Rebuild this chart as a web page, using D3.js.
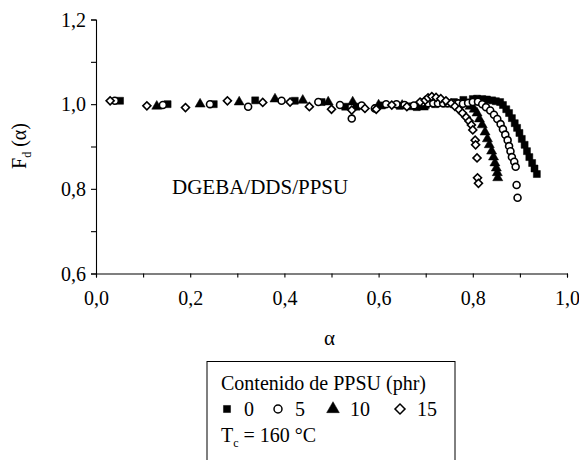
<!DOCTYPE html>
<html>
<head>
<meta charset="utf-8">
<script src="https://cdn.jsdelivr.net/npm/d3@7"></script>
</head>
<body style="margin:0">
<div class="plot"></div>
<script>
var W = 579, H = 460,
    m = {t:19.5, r:12, b:186.5, l:96},
    w = W - m.l - m.r,
    h = H - m.t - m.b;

// alpha / Fd values, one pair of arrays per PPSU content
var a0  = [0.051,0.152,0.250,0.338,0.422,0.479,0.529,0.553,0.607,0.645,0.667,0.681,0.700,0.720,0.740,0.760,0.780,0.800,
           0.809,0.820,0.830,0.841,0.849,0.858,0.864,0.871,0.877,0.883,0.889,0.894,0.899,0.904,0.910,0.915,0.920,0.926,0.931,0.936];
var f0  = [1.008,1.000,1.000,1.009,1.008,1.005,0.994,0.994,0.997,0.996,0.995,0.993,0.998,1.000,1.002,1.005,1.010,1.012,
           1.013,1.012,1.011,1.009,1.007,1.005,0.998,0.988,0.979,0.967,0.955,0.944,0.932,0.918,0.904,0.889,0.875,0.861,0.848,0.835];

var a5  = [0.040,0.142,0.242,0.323,0.394,0.472,0.518,0.543,0.564,0.592,0.616,0.638,0.655,0.675,0.694,
           0.705,0.716,0.726,0.737,0.747,0.758,0.769,0.779,0.790,0.800,
           0.811,0.820,0.828,0.837,0.845,0.852,0.859,0.864,0.869,0.874,0.877,0.880,0.883,0.888,0.891,0.893,0.895];
var f5  = [1.008,0.998,1.000,0.994,1.008,1.005,0.998,0.966,0.997,0.990,1.000,1.000,0.998,0.997,1.004,
           1.002,1.002,1.002,1.002,1.002,1.002,1.002,1.001,1.003,1.005,
           1.006,1.000,0.993,0.985,0.975,0.965,0.953,0.941,0.928,0.915,0.901,0.889,0.875,0.864,0.852,0.809,0.779];

var a10 = [0.129,0.221,0.304,0.380,0.439,0.493,0.545,0.600,0.650,0.695,0.720,0.745,0.770,
           0.794,0.803,0.809,0.814,0.820,0.826,0.831,0.835,0.840,0.844,0.847,0.850,0.852,0.853];
var f10 = [0.995,1.000,1.005,1.012,1.009,1.005,1.005,0.998,0.997,0.993,1.002,1.000,0.998,
           0.995,0.988,0.979,0.965,0.951,0.934,0.918,0.904,0.889,0.875,0.861,0.849,0.838,0.826];

var a15 = [0.030,0.108,0.190,0.279,0.354,0.412,0.453,0.500,0.543,0.571,0.595,0.628,0.660,0.688,
           0.699,0.705,0.713,0.722,0.732,0.743,0.754,0.762,0.771,0.778,0.786,0.792,0.797,0.800,
           0.805,0.806,0.809,0.810,0.812];
var f15 = [1.008,0.996,0.992,1.008,1.004,1.005,0.994,0.988,0.986,0.990,0.988,0.998,0.994,1.005,
           1.009,1.015,1.018,1.016,1.013,1.008,1.002,0.995,0.987,0.979,0.969,0.960,0.951,0.939,
           0.915,0.904,0.873,0.826,0.813];

var xTicks = [0,0.2,0.4,0.6,0.8,1.0];
var yTicks = [0.6,0.8,1.0,1.2];
var legendItems = ['0','5','10','15'];

var series = [
  {a:a0,  f:f0,  type:d3.symbolSquare,   size:49, rot:0,  fill:'#000'},
  {a:a10, f:f10, type:d3.symbolTriangle, size:44, rot:0,  fill:'#000'},
  {a:a5,  f:f5,  type:d3.symbolCircle,   size:38, rot:0,  fill:'#fff'},
  {a:a15, f:f15, type:d3.symbolSquare,   size:32, rot:45, fill:'#fff'}
];

var x = d3.scaleLinear().domain([0,1]).range([0,w]);
var y = d3.scaleLinear().domain([0.6,1.2]).range([h,0]);
var fmt = function(d){ return d3.format('.1f')(d).replace('.',','); };
var serif = "'Liberation Serif'";

var svg = d3.select('.plot').append('svg')
    .attr('width',W).attr('height',H)
    .attr('font-family',serif);
var g = svg.append('g').attr('transform','translate('+m.l+','+m.t+')');

// axes
var xAx = g.append('g').attr('transform','translate(0,'+h+')')
    .call(d3.axisBottom(x).tickValues(d3.range(0,1.01,0.1)).tickSize(4)
      .tickFormat(function(d){ return xTicks.some(function(t){return Math.abs(t-d)<1e-6}) ? fmt(d) : ''; }));
var yAx = g.append('g')
    .call(d3.axisLeft(y).tickValues(d3.range(0.6,1.21,0.1)).tickSize(5)
      .tickFormat(function(d){ return yTicks.some(function(t){return Math.abs(t-d)<1e-6}) ? fmt(d) : ''; }));
[xAx,yAx].forEach(function(ax){
  ax.attr('font-family',serif).attr('font-size',20);
  ax.select('.domain').attr('stroke','#000').attr('stroke-width',1.1);
  ax.selectAll('.tick line').attr('stroke','#000').attr('stroke-width',1.1);
  ax.selectAll('.tick text').attr('fill','#000');
});
xAx.selectAll('.tick text').attr('dy','1.2em');
yAx.selectAll('.tick text').attr('x',-10).attr('dy','0.34em');

// points
series.forEach(function(s){
  g.append('g').selectAll('path')
    .data(d3.range(s.a.length))
    .enter().append('path')
    .attr('transform',function(i){ return 'translate('+x(s.a[i])+','+y(s.f[i])+') rotate('+s.rot+')'; })
    .attr('d',d3.symbol().type(s.type).size(s.size))
    .attr('fill',s.fill)
    .attr('stroke','#000')
    .attr('stroke-width',s.fill=='#fff' ? 1.6 : 0.5);
});

// labels
svg.append('text').attr('x',m.l+w/2-2).attr('y',345).attr('text-anchor','middle')
  .attr('font-size',21).text('α');

var yl = svg.append('text').attr('transform','translate(26,146) rotate(-90)')
  .attr('text-anchor','middle').attr('font-size',20);
yl.append('tspan').text('F');
yl.append('tspan').attr('dy',5).attr('font-size',12).text('d');
yl.append('tspan').attr('dy',-5).text(' (α)');

svg.append('text').attr('x',172).attr('y',194).attr('font-size',21).text('DGEBA/DDS/PPSU');

// legend
var lg = svg.append('g');
lg.append('rect').attr('x',207).attr('y',361.5).attr('width',248).attr('height',110)
  .attr('fill','#fff').attr('stroke','#000').attr('stroke-width',1);
lg.append('text').attr('x',221).attr('y',390).attr('font-size',20).text('Contenido de PPSU (phr)');
var lx = [227,278,333,400];
var shapes = [series[0],series[2],series[1],series[3]];
legendItems.forEach(function(t,i){
  lg.append('path').attr('transform','translate('+lx[i]+',409) rotate('+shapes[i].rot+')')
    .attr('d',d3.symbol().type(shapes[i].type).size(i==2 ? 70 : 50))
    .attr('fill',shapes[i].fill).attr('stroke','#000').attr('stroke-width',shapes[i].fill=='#fff'?1.5:0.5);
  lg.append('text').attr('x',lx[i]+17).attr('y',416).attr('font-size',20).text(t);
});
var tc = lg.append('text').attr('x',221).attr('y',442).attr('font-size',20);
tc.append('tspan').text('T');
tc.append('tspan').attr('dy',5).attr('font-size',12).text('c');
tc.append('tspan').attr('dy',-5).text(' = 160 °C');
</script>
</body>
</html>
